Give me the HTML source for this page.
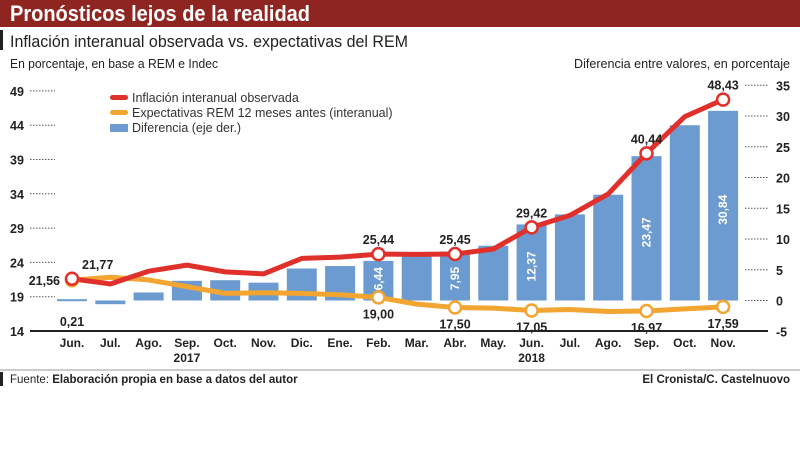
<!DOCTYPE html>
<html><head><meta charset="utf-8"><style>
body{margin:0;background:#fff;width:800px;height:450px;overflow:hidden;font-family:"Liberation Sans",sans-serif}
svg text{font-family:"Liberation Sans",sans-serif}
</style></head><body>
<svg id="c" width="800" height="450">
<rect x="0" y="0" width="800" height="27" fill="#8e2521"/>
<text x="10" y="21" fill="#fff" font-size="22" font-weight="bold" textLength="300" lengthAdjust="spacingAndGlyphs">Pronósticos lejos de la realidad</text>
<rect x="0" y="30" width="3" height="20" fill="#222"/>
<text x="10" y="47" fill="#222" font-size="17" textLength="398" lengthAdjust="spacingAndGlyphs">Inflación interanual observada vs. expectativas del REM</text>
<text x="10" y="68" fill="#222" font-size="12.5" textLength="208" lengthAdjust="spacingAndGlyphs">En porcentaje, en base a REM e Indec</text>
<text x="790" y="68" fill="#222" font-size="12.5" text-anchor="end" textLength="216" lengthAdjust="spacingAndGlyphs">Diferencia entre valores, en porcentaje</text>
<g>
<rect x="110" y="95" width="18" height="5" rx="2.5" fill="#e0302b"/>
<text x="132" y="102" font-size="12.5" fill="#333">Inflación interanual observada</text>
<rect x="110" y="110" width="18" height="5" rx="2.5" fill="#f2a530"/>
<text x="132" y="117" font-size="12.5" fill="#333">Expectativas REM 12 meses antes (interanual)</text>
<rect x="110" y="124" width="18" height="8" fill="#6b9bd0"/>
<text x="132" y="132" font-size="12.5" fill="#333">Diferencia (eje der.)</text>
</g>
<line x1="0" y1="370" x2="800" y2="370" stroke="#999" stroke-width="1"/>
<rect x="0" y="372" width="3" height="14" fill="#222"/>
<text x="10" y="383" font-size="11.5" fill="#222">Fuente: <tspan font-weight="bold">Elaboración propia en base a datos del autor</tspan></text>
<text x="790" y="383" font-size="11.5" fill="#222" font-weight="bold" text-anchor="end">El Cronista/C. Castelnuovo</text>
<g id="g"></g>
</svg>
<script>
const months=["Jun.","Jul.","Ago.","Sep.","Oct.","Nov.","Dic.","Ene.","Feb.","Mar.","Abr.","May.","Jun.","Jul.","Ago.","Sep.","Oct.","Nov."];
const years=["","","","2017","","","","","","","","","2018","","","","",""];
const observed=[21.77,21.0,22.9,23.8,22.8,22.5,24.8,25.0,25.44,25.4,25.45,26.2,29.42,31.2,34.4,40.44,45.9,48.43];
const expected=[21.56,22.0,21.6,20.6,19.6,19.7,19.6,19.4,19.00,18.0,17.50,17.4,17.05,17.2,16.9,16.97,17.3,17.59];
const diff=[0.21,-0.6,1.3,3.2,3.3,2.9,5.2,5.6,6.44,7.4,7.95,8.9,12.37,14.0,17.2,23.47,28.5,30.84];
const leftTicks=[14,19,24,29,34,39,44,49];
const rightTicks=[-5,0,5,10,15,20,25,30,35];
const obsLabels={0:"21,77",8:"25,44",10:"25,45",12:"29,42",15:"40,44",17:"48,43"};
const expLabels={0:"21,56",8:"19,00",10:"17,50",12:"17,05",15:"16,97",17:"17,59"};
const barLabels={0:"0,21",8:"6,44",10:"7,95",12:"12,37",15:"23,47",17:"30,84"};
const NS="http://www.w3.org/2000/svg",g=document.getElementById('g');
const x=i=>72+i*38.3, yL=v=>331-(v-14)*6.72, yR=v=>300.5-v*6.15;
const yTick=v=>331-(v-14)*6.86;
function mk(t,a,txt){const e=document.createElementNS(NS,t);for(const k in a)e.setAttribute(k,a[k]);if(txt!=null)e.textContent=txt;g.appendChild(e);return e;}
leftTicks.forEach(v=>{if(v>14){const l=mk('line',{x1:30,x2:55,y1:yTick(v),y2:yTick(v),stroke:'#555','stroke-dasharray':'1.5 1.5'});}
const t=mk('text',{x:10,y:yTick(v)+5,'font-size':12.5,fill:'#222','font-weight':'bold'},v);});
rightTicks.forEach(v=>{if(v>-5){const l=mk('line',{x1:745,x2:768,y1:yR(v),y2:yR(v),stroke:'#555','stroke-dasharray':'1.5 1.5'});}
const t=mk('text',{x:776,y:yR(v)+5,'font-size':12.5,fill:'#222','font-weight':'bold'},v);});
const ax=mk('line',{x1:30,x2:768,y1:331,y2:331,stroke:'#222','stroke-width':2});

months.forEach((m,i)=>{const t=mk('text',{x:x(i),y:347,'font-size':12,'font-weight':'bold',fill:'#222','text-anchor':'middle'},m);

if(years[i]){const y=mk('text',{x:x(i),y:362,'font-size':12,'font-weight':'bold',fill:'#222','text-anchor':'middle'},years[i]);}});
diff.forEach((v,i)=>{const y0=yR(0),y1=yR(v);const r=mk('rect',{x:x(i)-15,y:Math.min(y0,y1),width:30,height:Math.max(2,Math.abs(y1-y0)),fill:'#6b9bd0'});

if(barLabels[i]){if(i==0){const t=mk('text',{x:x(i),y:326,'font-size':12.5,'font-weight':'bold',fill:'#222','text-anchor':'middle'},barLabels[i]);}
else{const cy=(i==10)?y0-22:(y0+y1)/2+(i==8?-2:4);const t=mk('text',{x:x(i)+4,y:cy,'font-size':12,'font-weight':'bold',fill:'#fff','text-anchor':'middle',transform:`rotate(-90 ${x(i)+4} ${cy})`},barLabels[i]);}}});
function line(arr,col,name){const p=mk('polyline',{points:arr.map((v,i)=>x(i)+','+yL(v)).join(' '),fill:'none',stroke:col,'stroke-width':5,'stroke-linejoin':'round'});}
line(expected,'#f2a530','expectations-line');
line(observed,'#e0302b','observed-line');
function pts(arr,labels,col,name,above){Object.keys(labels).forEach(k=>{const i=+k;const c=mk('circle',{cx:x(i),cy:yL(arr[i]),r:6,fill:'#fff',stroke:col,'stroke-width':2.5});
let tx=x(i),ty=above?yL(arr[i])-10:yL(arr[i])+21;let anc='middle';if(i==0){tx=x(i)+10;anc='start';if(!above){tx=x(i)-12;anc='end';ty=yL(arr[i])+5;}}
const t=mk('text',{x:tx,y:ty,'font-size':12.5,'font-weight':'bold',fill:'#222','text-anchor':anc},labels[i]);});}
pts(expected,expLabels,'#f2a530','expectations',false);
pts(observed,obsLabels,'#e0302b','observed',true);
</script>
</body></html>
